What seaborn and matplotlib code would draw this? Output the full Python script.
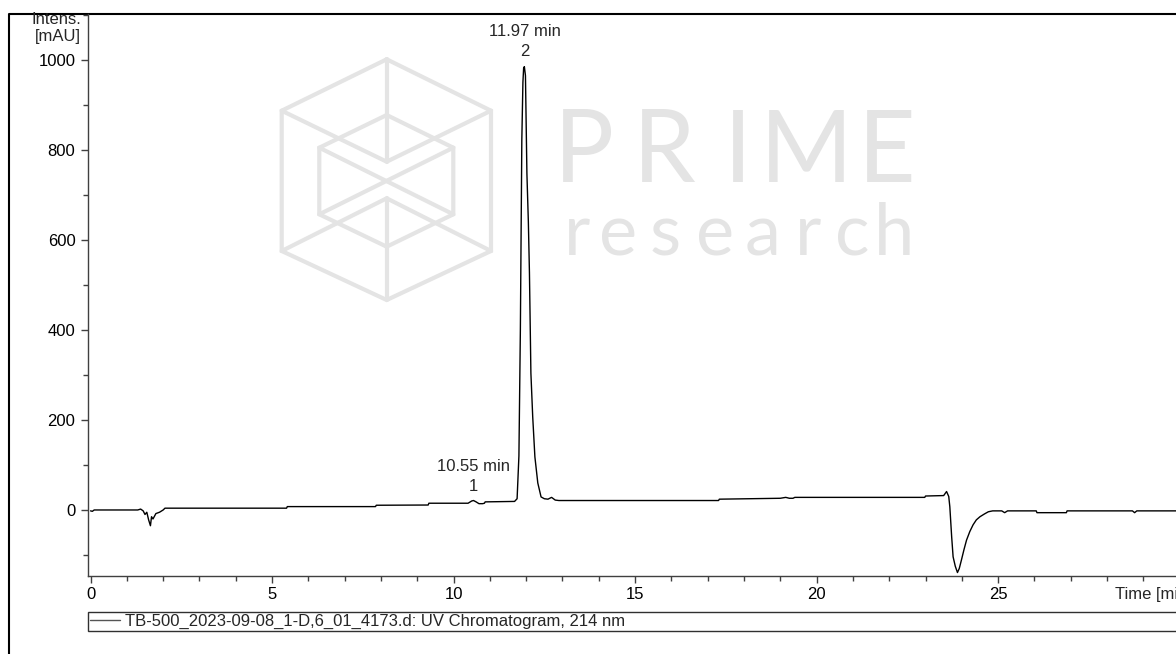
import numpy as np
import pandas as pd
import seaborn as sns
import matplotlib
matplotlib.use("Agg")
import matplotlib.pyplot as plt
from matplotlib.lines import Line2D
from matplotlib.ticker import MultipleLocator
from matplotlib.transforms import blended_transform_factory

# chromatogram trace (time in min, intensity in mAU)
time_min = [0.00, 0.05, 0.10, 1.30, 1.38, 1.45, 1.50, 1.55, 1.60, 1.65, 1.68, 1.72,
            1.80, 1.90, 2.00, 2.05, 5.40, 5.42, 7.85, 7.87, 9.30, 9.32, 10.40, 10.50,
            10.55, 10.62, 10.70, 10.80, 10.85, 10.87, 11.68, 11.75, 11.80, 11.84, 11.88,
            11.91, 11.93, 11.95, 11.98, 12.02, 12.06, 12.09, 12.13, 12.18, 12.24, 12.32,
            12.41, 12.50, 12.60, 12.70, 12.80, 12.90, 17.30, 17.32, 19.00, 19.15, 19.25,
            19.35, 19.40, 22.98, 23.00, 23.50, 23.58, 23.64, 23.67, 23.72, 23.76, 23.82,
            23.88, 23.93, 23.99, 24.06, 24.13, 24.22, 24.31, 24.40, 24.50, 24.62, 24.73,
            24.85, 25.10, 25.18, 25.26, 26.05, 26.07, 26.88, 26.90, 28.70, 28.76, 28.82,
            29.90]
intens_mau = [-2, -3, 0, 0, 2, -2, -10, -5, -22, -35, -15, -20,
              -8, -5, 0, 4, 4, 7.5, 7.5, 10.5, 11, 15, 15, 20,
              21, 18, 14, 14, 15, 18, 19, 25, 120, 400, 822,
              950, 982, 985, 965, 748, 640, 527, 304, 207, 118, 60,
              29, 25, 24, 28, 22, 21, 21, 24, 26, 28, 26,
              26, 28, 28, 31, 32, 41, 30, 7, -59, -104, -125,
              -139, -130, -111, -88, -67, -48, -33, -22, -15, -9, -4,
              -2, -2, -6, -2, -2, -6, -6, -2, -2, -6, -2,
              -2]

peak_no = ["1", "2"]
peak_rt = [10.55, 11.97]
peak_label_y = [53, 1019]
legend_label = "TB-500_2023-09-08_1-D,6_01_4173.d: UV Chromatogram, 214 nm"

df = pd.DataFrame({"t": time_min, "i": intens_mau})

sns.set_style("ticks")
plt.rcParams["font.family"] = ["Liberation Sans", "DejaVu Sans"]
FS = 12

W, H = 1176, 654
fig = plt.figure(figsize=(W / 100, H / 100), dpi=100)

# background layer in pixel units: frame + watermark
bg = fig.add_axes([0, 0, 1, 1], zorder=-1)
bg.set_xlim(0, W)
bg.set_ylim(H, 0)
bg.axis("off")
bg.plot([9, 9, W + 5], [H + 5, 14, 14], color="black", lw=1.5, solid_capstyle="butt")

T, UR, LR, B = (386.7, 59.3), (491, 110.7), (491, 251), (386.7, 300)
LL, UL = (281.7, 251), (281.7, 110.7)
VT, VB = (386.7, 161.7), (386.7, 198.3)
iT, iUR, iLR, iB = (386.7, 115), (453.3, 147.7), (453.3, 214.3), (386.7, 246.7)
iLL, iUL = (319.3, 214.3), (319.3, 147.7)
cube = [[T, UR, LR, B, LL, UL, T], [UL, VT, UR], [T, VT], [LL, VB, LR], [VB, B],
        [iT, iUR, iLR, iB, iLL, iUL, iT], [iUL, iLR], [iUR, iLL]]
wm = "#e4e4e4"
for seg in cube:
    xs, ys = zip(*seg)
    bg.plot(xs, ys, color=wm, lw=3, solid_joinstyle="miter")
for ch, x in zip("PRIME", [584, 664, 738, 806, 887]):
    bg.text(x, 181.7, ch, ha="center", va="baseline", fontsize=72, color=wm,
            family="Lato", fontweight="normal")
for ch, x in zip("research", [577, 618, 665, 715, 763, 808, 852, 894]):
    bg.text(x, 255, ch, ha="center", va="baseline", fontsize=52, color=wm,
            family="Lato", fontweight="normal")

# main chart
ax = fig.add_axes([88 / W, 1 - 576 / H, 1 - 88 / W, (576 - 14) / H])
ax.patch.set_alpha(0)
sns.lineplot(data=df, x="t", y="i", ax=ax, color="black", lw=1.0, sort=False,
             estimator=None, label=legend_label)
ax.set_xlim(-0.07, 29.9)
ax.set_ylim(-146.7, 1102)
ax.set_xlabel("")
ax.set_ylabel("")
sns.despine(ax=ax)
for s in ["left", "bottom"]:
    ax.spines[s].set_color("#404040")
    ax.spines[s].set_linewidth(1.0)

ax.xaxis.set_major_locator(MultipleLocator(5))
ax.xaxis.set_minor_locator(MultipleLocator(1))
ax.yaxis.set_major_locator(MultipleLocator(200))
ax.yaxis.set_minor_locator(MultipleLocator(100))
ax.tick_params(axis="both", which="major", length=5, width=1, color="#404040",
               labelsize=FS, labelcolor="black")
ax.tick_params(axis="both", which="minor", length=3.5, width=1, color="#404040")
ax.tick_params(axis="x", pad=3)
ax.tick_params(axis="y", pad=4)

for n, rt, y in zip(peak_no, peak_rt, peak_label_y):
    ax.text(rt, y, n, ha="center", va="center", fontsize=FS)
    ax.text(rt, y + 44, f"{rt:.2f} min", ha="center", va="center", fontsize=FS)

# unit labels
fig.text(81 / W, 1 - 20 / H, "Intens.", ha="right", va="center", fontsize=FS)
fig.text(81 / W, 1 - 36 / H, "[mAU]", ha="right", va="center", fontsize=FS)
tr = blended_transform_factory(ax.transData, fig.transFigure)
ax.text(28.22, 1 - 594 / H, "Time [min]", transform=tr, ha="left", va="center",
        fontsize=FS, clip_on=False)

handle = Line2D([], [], color="#555555", lw=1.0)
ax.legend([handle], [legend_label], loc="upper left",
          bbox_to_anchor=(88 / W, 1 - 612 / H, 1.2, 0.0), bbox_transform=fig.transFigure,
          mode="expand", frameon=True, fancybox=False, edgecolor="#303030",
          framealpha=1, fontsize=FS, handlelength=1.8, handletextpad=0.3,
          borderpad=0.12, borderaxespad=0)
ax.get_legend().get_frame().set_linewidth(1.0)

fig.savefig("out.png", dpi=100)
